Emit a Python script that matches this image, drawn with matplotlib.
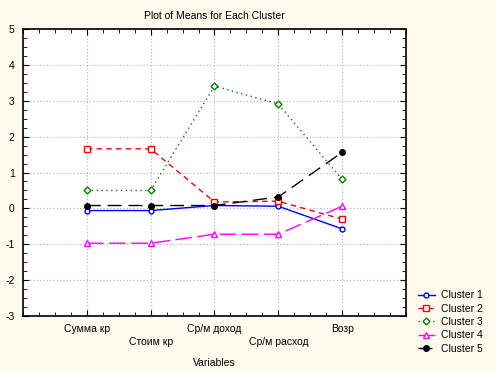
import matplotlib.pyplot as plt
from matplotlib.ticker import MultipleLocator

plt.rcParams['font.family'] = ['Liberation Sans', 'DejaVu Sans']
plt.rcParams['axes.unicode_minus'] = False

variables = ["Сумма кр", "Стоим кр", "Ср/м доход", "Ср/м расход", "Возр"]
cluster1 = [-0.06, -0.06, 0.08, 0.06, -0.57]
cluster2 = [1.66, 1.66, 0.18, 0.2, -0.3]
cluster3 = [0.5, 0.5, 3.41, 2.91, 0.81]
cluster4 = [-0.97, -0.97, -0.72, -0.72, 0.06]
cluster5 = [0.08, 0.08, 0.08, 0.32, 1.56]

bg = '#fffaee'
fig = plt.figure(figsize=(4.96, 3.72), dpi=100, facecolor=bg)
ax = fig.add_axes([0.0464, 0.1505, 0.772, 0.7715])
x = range(1, len(variables) + 1)

ax.plot(x, cluster1, color='blue', lw=1, marker='o', ms=3.5, mfc='white', mew=1, label='Cluster 1')
ax.plot(x, cluster2, color='red', lw=1, ls=(0, (4, 3)), marker='s', ms=4, mfc='white', mew=1, label='Cluster 2')
ax.plot(x, cluster3, color='green', lw=1, ls=(0, (1, 2.5)), marker='D', ms=3.5, mfc='white', mew=1, label='Cluster 3')
ax.plot(x, cluster4, color='magenta', lw=1, ls=(0, (12, 4)), marker='^', ms=4, mfc='white', mew=1, label='Cluster 4')
ax.plot(x, cluster5, color='black', lw=1, ls=(0, (10, 5)), marker='o', ms=4, mfc='black', label='Cluster 5')

ax.set_xlim(0, 6)
ax.set_ylim(-3, 5)
ax.set_xticks(list(x))
labels = [("\n" + v if i % 2 else v) for i, v in enumerate(variables)]
ax.set_xticklabels(labels, fontsize=7.5, linespacing=1.35)
ax.xaxis.set_minor_locator(MultipleLocator(0.25))
ax.yaxis.set_major_locator(MultipleLocator(1))
ax.yaxis.set_minor_locator(MultipleLocator(0.25))
ax.tick_params(axis='both', which='both', direction='in', top=True, right=True, labelsize=7.5)
ax.tick_params(which='major', length=4)
ax.tick_params(which='minor', length=3)
ax.tick_params(axis='x', pad=6)
ax.tick_params(axis='y', pad=6)
ax.grid(True, which='major', color='#b0b0b0', ls=(0, (1, 2)), lw=0.8)
for s in ax.spines.values():
    s.set_linewidth(1.2)

ax.set_title("Plot of Means for Each Cluster", fontsize=7.5, pad=7)
ax.set_xlabel("Variables", fontsize=7.5, labelpad=8)

fig.legend(loc='lower left', bbox_to_anchor=(0.832, 0.035), frameon=False, fontsize=7.5,
           borderpad=0, handlelength=1.6, labelspacing=0.32, handletextpad=0.6)

fig.savefig('out.png', dpi=100, facecolor=bg)
